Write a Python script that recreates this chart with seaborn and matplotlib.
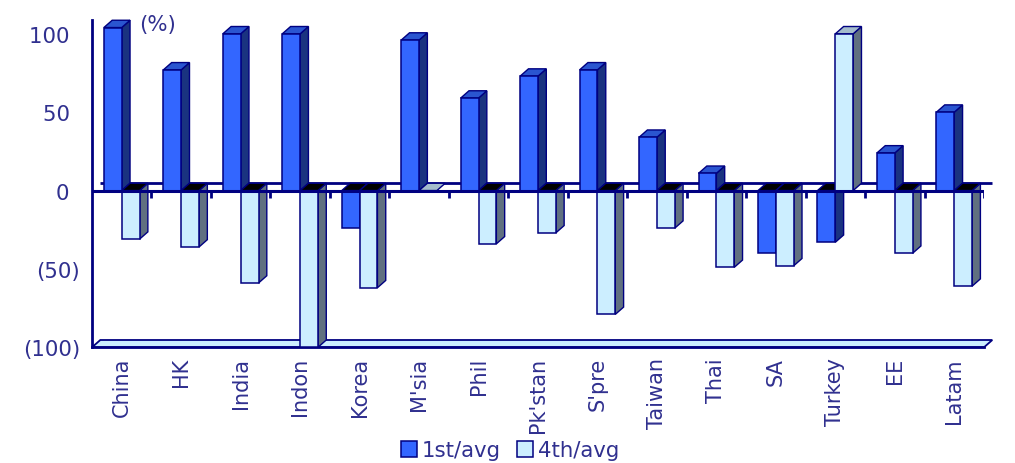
import numpy as np
import pandas as pd
import matplotlib
matplotlib.use("Agg")
import matplotlib.pyplot as plt
from matplotlib.patches import Polygon, Patch
import seaborn as sns

# Markets and the two quarter/average ratios (%)
markets = ["China", "HK", "India", "Indon", "Korea", "M'sia", "Phil", "Pk'stan",
           "S'pre", "Taiwan", "Thai", "SA", "Turkey", "EE", "Latam"]
first_avg = [104, 77, 100, 100, -24, 96, 59, 73, 77, 34, 11, -40, -33, 24, 50]
fourth_avg = [-31, -36, -59, -100, -62, 0, -34, -27, -79, -24, -49, -48, 100, -40, -61]
series_names = ["1st/avg", "4th/avg"]
y_ticks = [-100, -50, 0, 50, 100]
y_tick_labels = ["(100)", "(50)", "0\u2002", "50\u2002", "100\u2002"]

NAVY = "#000080"
TEXT = "#30308f"
FS = 15.3
front_cols = ["#3366ff", "#cceeff"]
side_cols = ["#1a3380", "#607080"]
top_cols = ["#2a55d0", "#a4bccc"]
under_col = "#000000"

df = pd.DataFrame({
    "market": markets * 2,
    "value": first_avg + fourth_avg,
    "series": [series_names[0]] * len(markets) + [series_names[1]] * len(markets),
})

sns.set_style("white")
plt.rcParams["font.family"] = ["DejaVu Sans"]

W, H = 1015, 464
fig = plt.figure(figsize=(W / 100, H / 100), dpi=100)
y_lo, y_hi = -100, 109
ax_bottom_px, ax_top_px = 348.3, 20.7
ax = fig.add_axes([92 / W, (H - ax_bottom_px) / H, 892 / W, (ax_bottom_px - ax_top_px) / H])

sns.barplot(data=df, x="market", y="value", hue="series", order=markets,
            hue_order=series_names, palette=front_cols, saturation=1,
            width=0.6, edgecolor=NAVY, linewidth=1.1, legend=False, ax=ax)

n = len(markets)
ax.set_xlim(-0.5, n - 0.5)
ax.set_ylim(y_lo, y_hi)

# depth offset of the pseudo-3D extrusion, in data units
dx = 8.3 / (892 / n)
dy = 7.3 / ((ax_bottom_px - ax_top_px) / (y_hi - y_lo))

# floor slab at the bottom of the value range
floor = Polygon([(-0.5, y_lo), (n - 0.5, y_lo), (n - 0.5 + dx, y_lo + dy), (-0.5 + dx, y_lo + dy)],
                closed=True, facecolor="#cceeff", edgecolor=NAVY, linewidth=1.3, zorder=1,
                clip_on=False)
ax.add_patch(floor)

# back zero line
ax.plot([-0.5 + dx, n - 0.5 + dx], [dy, dy], color=NAVY, lw=2, zorder=1.5,
        solid_capstyle="butt", clip_on=False)

# extrude each bar: side and top faces behind the front face
for k, cont in enumerate(ax.containers):
    for bar in cont:
        x0, w, h = bar.get_x(), bar.get_width(), bar.get_height()
        bar.set_zorder(3)
        if h >= 0:
            top = [(x0, h), (x0 + w, h), (x0 + w + dx, h + dy), (x0 + dx, h + dy)]
            side = [(x0 + w, 0), (x0 + w + dx, dy), (x0 + w + dx, h + dy), (x0 + w, h)]
            tcol = top_cols[k]
        else:
            top = [(x0, 0), (x0 + w, 0), (x0 + w + dx, dy), (x0 + dx, dy)]
            side = [(x0 + w, h), (x0 + w + dx, h + dy), (x0 + w + dx, dy), (x0 + w, 0)]
            tcol = under_col
        if h != 0:
            ax.add_patch(Polygon(side, closed=True, facecolor=side_cols[k], edgecolor=NAVY,
                                 linewidth=1.0, zorder=2, clip_on=False))
        ax.add_patch(Polygon(top, closed=True, facecolor=tcol, edgecolor=NAVY,
                             linewidth=1.0, zorder=2, clip_on=False))

# front zero line with category separators
bounds = np.arange(-0.5, n, 1.0)
ax.plot([-0.5, n - 0.5], [0, 0], color=NAVY, lw=2.2, zorder=4, solid_capstyle="butt")
ax.vlines(bounds[1:], -4.6, 0, color=NAVY, lw=2, zorder=4)

# axes styling
for s in ["top", "right"]:
    ax.spines[s].set_visible(False)
for s in ["left", "bottom"]:
    ax.spines[s].set_color(NAVY)
    ax.spines[s].set_linewidth(2)

ax.set_yticks(y_ticks)
ax.set_yticklabels(y_tick_labels)
ax.set_xticks(range(n))
ax.set_xticklabels(markets, rotation=90, va="top", ha="center")
ax.set_xticks(bounds, minor=True)
ax.tick_params(axis="x", which="major", length=0, pad=7, labelsize=15, labelcolor=TEXT)
ax.tick_params(axis="x", which="minor", length=5, width=2, color=NAVY, direction="out")
ax.tick_params(axis="y", which="major", length=6, width=2, color=NAVY, direction="out",
               pad=2.5, labelsize=FS, labelcolor=TEXT)
ax.set_xlabel("")
ax.set_ylabel("")
ax.grid(False)

fig.text(158 / W, 1 - 25 / H, "(%)", ha="center", va="center", fontsize=FS, color=TEXT)

handles = [Patch(facecolor=front_cols[i], edgecolor=NAVY, linewidth=1.1) for i in range(2)]
fig.legend(handles, series_names, loc="center", bbox_to_anchor=(510 / W, 1 - 451.5 / H),
           ncol=2, frameon=False, handlelength=0.75, handleheight=0.75, handletextpad=0.2,
           columnspacing=0.8, fontsize=FS, labelcolor=TEXT, borderpad=0)

fig.savefig("out.png", dpi=100, facecolor="white")
